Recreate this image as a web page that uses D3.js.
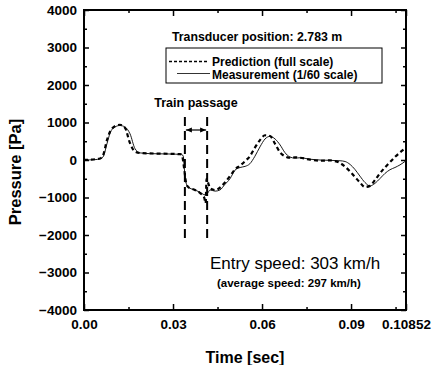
<!DOCTYPE html>
<html><head><meta charset="utf-8">
<script src="https://cdn.jsdelivr.net/npm/d3@7"></script>
<style>
html,body{margin:0;padding:0;background:#fff;}
svg{display:block;font-family:Arial,"Liberation Sans",sans-serif;}
</style></head>
<body>
<svg id="chart" width="438" height="365"></svg>
<script>
// ---- data ----
const measTime = [0,0.0037,0.0054,0.0064,0.0078,0.0088,0.0104,0.0121,0.0138,0.0155,0.0172,0.0189,0.0222,0.0256,0.0290,0.0324,0.0334,0.0340,0.0347,0.0357,0.0374,0.0391,0.0408,0.0415,0.0425,0.0442,0.0458,0.0475,0.0492,0.0509,0.0526,0.0543,0.0559,0.0576,0.0593,0.0610,0.0627,0.0644,0.0661,0.0677,0.0694,0.0711,0.0728,0.0762,0.0795,0.0829,0.0863,0.0880,0.0897,0.0913,0.0930,0.0947,0.0964,0.0981,0.0998,0.1014,0.1031,0.1048,0.1065,0.1085];
const measValues = [0,10,30,80,450,720,880,920,880,700,300,190,170,165,160,150,120,-400,-680,-750,-800,-860,-930,-900,-800,-830,-800,-650,-500,-270,-200,-170,-100,100,350,560,630,560,400,200,80,50,60,20,0,-10,-20,-40,-120,-250,-430,-600,-690,-620,-490,-360,-260,-200,-130,-20];

const predTime = [0,0.0037,0.0054,0.0064,0.0078,0.0088,0.0104,0.0121,0.0138,0.0155,0.0172,0.0189,0.0222,0.0256,0.0290,0.0324,0.0330,0.0337,0.0344,0.0351,0.0374,0.0391,0.0405,0.0410,0.0413,0.0420,0.0425,0.0442,0.0458,0.0475,0.0492,0.0509,0.0526,0.0543,0.0559,0.0576,0.0593,0.0610,0.0627,0.0644,0.0661,0.0677,0.0694,0.0711,0.0728,0.0762,0.0795,0.0829,0.0846,0.0863,0.0880,0.0897,0.0913,0.0930,0.0947,0.0964,0.0981,0.0998,0.1014,0.1031,0.1048,0.1065,0.1085];
const predValues = [0,20,40,120,550,760,900,940,860,450,220,185,175,170,165,155,130,-200,-600,-720,-800,-880,-1000,-1150,-500,-650,-750,-800,-740,-600,-430,-250,-150,-30,100,330,530,660,640,430,200,100,60,70,60,10,-20,-10,-30,-80,-180,-310,-450,-600,-720,-690,-530,-350,-200,-60,80,200,330];

const xTickValues = [0,0.03,0.06,0.09,0.10852];
const xTickLabels = ["0.00","0.03","0.06","0.09","0.10852"];
const xMinorTicks = [0.015,0.045,0.075,0.105];
const yTickValues = [-4000,-3000,-2000,-1000,0,1000,2000,3000,4000];
const yMinorTicks = [-3500,-2500,-1500,-500,500,1500,2500,3500];
const trainPassage = [0.0340,0.0415];   // start/end times of passage marks
const trainPassageRange = [1150,-2200]; // vertical extent (Pa)
const trainArrowLevel = 800;
const legendLabels = ["Prediction (full scale)","Measurement (1/60 scale)"];

(function(){
const svg = d3.select("#chart");
const pL = 84, pR = 406, pT = 10, pB = 310;
const x = d3.scaleLinear().domain([0,0.10852]).range([pL,pR]);
const y = d3.scaleLinear().domain([-4000,4000]).range([pB,pT]);

function styleAxis(g){
  g.select(".domain").remove();
  g.selectAll(".tick line").attr("stroke","#000").attr("stroke-width",1.5);
  g.selectAll("text").attr("fill","#000").attr("font-weight","bold").attr("font-size","13.5px")
    .attr("font-family","Arial, 'Liberation Sans', sans-serif");
}
svg.append("g").attr("transform",`translate(0,${pB})`)
  .call(d3.axisBottom(x).tickValues(xTickValues).tickSize(-6).tickPadding(9)
    .tickFormat((d,i)=>xTickLabels[i])).call(styleAxis);
svg.append("g").attr("transform",`translate(0,${pB})`)
  .call(d3.axisBottom(x).tickValues(xMinorTicks).tickSize(-3).tickFormat("")).call(styleAxis);
svg.append("g").attr("transform",`translate(0,${pT})`)
  .call(d3.axisTop(x).tickValues(xTickValues).tickSize(-6).tickFormat("")).call(styleAxis);
svg.append("g").attr("transform",`translate(0,${pT})`)
  .call(d3.axisTop(x).tickValues(xMinorTicks).tickSize(-3).tickFormat("")).call(styleAxis);
svg.append("g").attr("transform",`translate(${pL},0)`)
  .call(d3.axisLeft(y).tickValues(yTickValues).tickSize(-5).tickPadding(7)
    .tickFormat(d3.format("d"))).call(styleAxis);
svg.append("g").attr("transform",`translate(${pL},0)`)
  .call(d3.axisLeft(y).tickValues(yMinorTicks).tickSize(-3).tickFormat("")).call(styleAxis);
svg.append("g").attr("transform",`translate(${pR},0)`)
  .call(d3.axisRight(y).tickValues(yTickValues).tickSize(-5).tickFormat("")).call(styleAxis);
svg.append("g").attr("transform",`translate(${pR},0)`)
  .call(d3.axisRight(y).tickValues(yMinorTicks).tickSize(-3).tickFormat("")).call(styleAxis);

svg.append("rect").attr("x",pL).attr("y",pT).attr("width",pR-pL).attr("height",pB-pT)
  .attr("fill","none").attr("stroke","#000").attr("stroke-width",2);

const line = d3.line().x(d=>x(d[0])).y(d=>y(d[1])).curve(d3.curveMonotoneX);
const meas = measTime.map((t,i)=>[t,measValues[i]]);
const pred = predTime.map((t,i)=>[t,predValues[i]]);
svg.append("path").datum(meas).attr("d",line).attr("fill","none").attr("stroke","#000").attr("stroke-width",0.9);
svg.append("path").datum(pred).attr("d",line).attr("fill","none").attr("stroke","#000")
  .attr("stroke-width",2.2).attr("stroke-dasharray","4,3");

trainPassage.forEach(t=>{
  svg.append("line").attr("x1",x(t)).attr("x2",x(t))
    .attr("y1",y(trainPassageRange[0])).attr("y2",y(trainPassageRange[1]))
    .attr("stroke","#000").attr("stroke-width",2).attr("stroke-dasharray","9,5");
});
const defs = svg.append("defs");
defs.append("marker").attr("id","ah").attr("viewBox","0 0 10 10").attr("refX",10).attr("refY",5)
  .attr("markerWidth",5).attr("markerHeight",5).attr("orient","auto-start-reverse")
  .append("path").attr("d","M0,1L10,5L0,9z").attr("fill","#000");
svg.append("line").attr("x1",x(trainPassage[0])+1).attr("x2",x(trainPassage[1])-1)
  .attr("y1",y(trainArrowLevel)).attr("y2",y(trainArrowLevel))
  .attr("stroke","#000").attr("stroke-width",1.2)
  .attr("marker-start","url(#ah)").attr("marker-end","url(#ah)");
svg.append("text").attr("x",x((trainPassage[0]+trainPassage[1])/2)).attr("y",107)
  .attr("text-anchor","middle").attr("font-weight","bold").attr("font-size","12.5px").text("Train passage");

svg.append("text").attr("x",172).attr("y",41).attr("font-weight","bold").attr("font-size","12.3px")
  .text("Transducer position: 2.783 m");
svg.append("rect").attr("x",166).attr("y",48).attr("width",216).attr("height",35)
  .attr("fill","#fff").attr("stroke","#000").attr("stroke-width",1);
svg.append("line").attr("x1",169).attr("x2",209).attr("y1",61.5).attr("y2",61.5)
  .attr("stroke","#000").attr("stroke-width",1.6).attr("stroke-dasharray","3,2");
svg.append("line").attr("x1",177).attr("x2",210).attr("y1",73.5).attr("y2",73.5)
  .attr("stroke","#000").attr("stroke-width",0.8);
svg.append("text").attr("x",212).attr("y",66).attr("font-weight","bold").attr("font-size","12px").text(legendLabels[0]);
svg.append("text").attr("x",212).attr("y",78.5).attr("font-weight","bold").attr("font-size","12px").text(legendLabels[1]);

svg.append("text").attr("x",210).attr("y",269).attr("font-size","17px").text("Entry speed: 303 km/h");
svg.append("text").attr("x",217).attr("y",287).attr("font-weight","bold").attr("font-size","11.5px").text("(average speed: 297 km/h)");

svg.append("text").attr("x",(pL+pR)/2).attr("y",363).attr("text-anchor","middle")
  .attr("font-weight","bold").attr("font-size","16px").text("Time [sec]");
svg.append("text").attr("transform",`translate(21,172) rotate(-90)`).attr("text-anchor","middle")
  .attr("font-weight","bold").attr("font-size","16.5px").text("Pressure [Pa]");
})();
</script>
</body></html>
